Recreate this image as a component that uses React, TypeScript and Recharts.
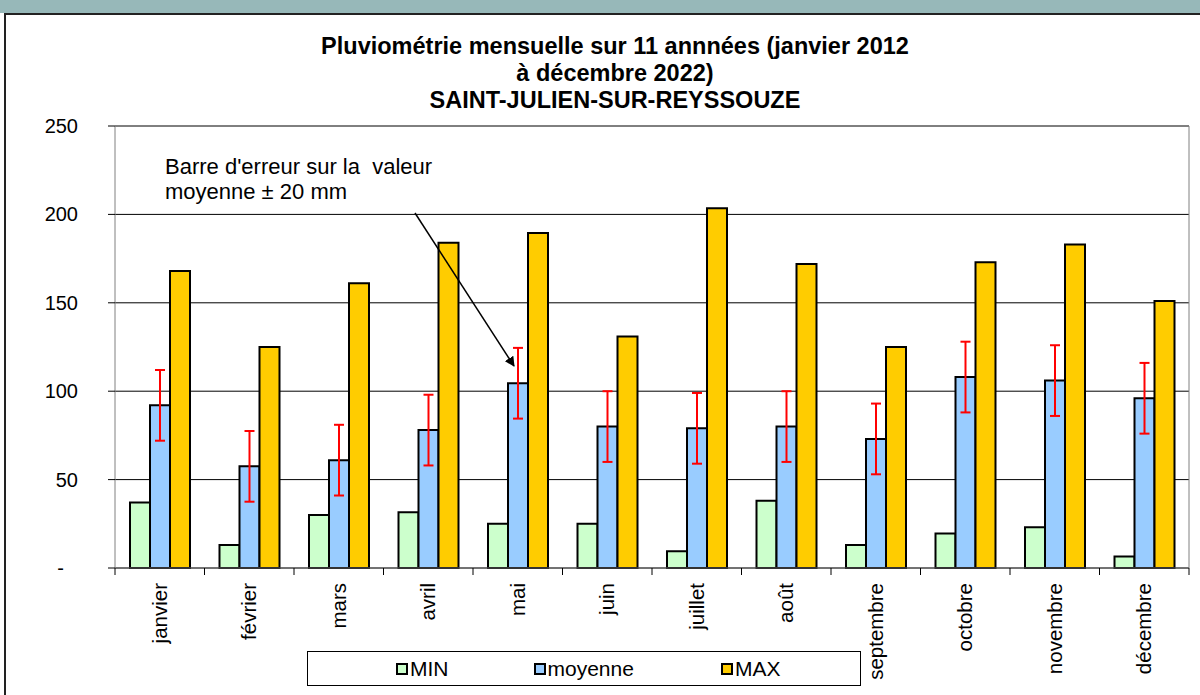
import {
  BarChart, Bar, XAxis, YAxis, CartesianGrid, Legend, ErrorBar,
} from 'recharts'

const months = ['janvier', 'février', 'mars', 'avril', 'mai', 'juin', 'juillet', 'août', 'septembre', 'octobre', 'novembre', 'décembre']
const minVals = [37, 13, 30, 31.5, 25, 25, 9.5, 38, 13, 19.5, 23, 6.5]
const meanVals = [92, 57.5, 61, 78, 104.5, 80, 79, 80, 73, 108, 106, 96]
const maxVals = [168, 125, 161, 184, 189.5, 131, 203.5, 172, 125, 173, 183, 151]
const errMm = 20
const yTicks = [0, 50, 100, 150, 200, 250]

const FONT = '"Liberation Sans", Arial, sans-serif'
const W = 1200
const H = 695
const M = { top: 126, right: 11, left: 0, bottom: 0 }
const Y_W = 115
const BAND = (W - Y_W - M.right) / months.length

const data = months.map((m, i) => ({
  month: m,
  min: minVals[i],
  mean: meanVals[i],
  max: maxVals[i],
  err: errMm,
}))

const COLORS = { min: '#CCFFCC', mean: '#99CCFF', max: '#FFCC00' }

function MonthTick(props: any) {
  const { x, y, payload, index } = props
  const top = y - 8
  return (
    <g>
      <line x1={x - BAND / 2} x2={x - BAND / 2} y1={top} y2={top + 7} stroke="#000" />
      {index === months.length - 1 && (
        <line x1={x + BAND / 2} x2={x + BAND / 2} y1={top} y2={top + 7} stroke="#000" />
      )}
      <text
        x={x} y={top + 15}
        transform={`rotate(-90, ${x}, ${top + 15})`}
        textAnchor="end" dy="0.35em"
        fontSize={20.5} fontFamily={FONT} fill="#000"
      >
        {payload.value}
      </text>
    </g>
  )
}

function ValueTick(props: any) {
  const { x, y, payload } = props
  const zero = payload.value === 0
  return (
    <text x={zero ? x - 14 : x} y={y} dy="0.35em" textAnchor="end" fontSize={20} fontFamily={FONT} fill="#000">
      {zero ? '-' : payload.value}
    </text>
  )
}

const legendItems = [
  { key: 'min', label: 'MIN', ml: 88 },
  { key: 'mean', label: 'moyenne', ml: 85 },
  { key: 'max', label: 'MAX', ml: 87 },
]

function LegendBox() {
  return (
    <div style={{ display: 'flex', alignItems: 'center', height: '100%', fontFamily: FONT, fontSize: 21 }}>
      {legendItems.map(it => (
        <div key={it.key} style={{ display: 'flex', alignItems: 'center', marginLeft: it.ml }}>
          <span style={{
            display: 'inline-block', width: 8, height: 8, border: '2px solid #000',
            background: (COLORS as any)[it.key], marginRight: 2,
          }} />
          <span>{it.label}</span>
        </div>
      ))}
    </div>
  )
}

export default function App() {
  return (
    <div style={{ position: 'absolute', left: 0, top: 0, width: W, height: H, overflow: 'hidden', background: '#fff' }}>
      {/* bandeau et cadre */}
      <div style={{ position: 'absolute', left: 0, top: 0, width: W, height: 13, background: '#97B8B9' }} />
      <div style={{ position: 'absolute', left: 4, top: 13, width: W, height: H, borderLeft: '2px solid #222', borderTop: '2px solid #222' }} />

      <div style={{ position: 'absolute', left: 0, top: 0 }}>
        <BarChart width={W} height={H} data={data} margin={M} barCategoryGap={15} barGap={0}>
          <CartesianGrid vertical={false} stroke="#000" />
          <CartesianGrid
            stroke="#808080"
            horizontalCoordinatesGenerator={({ offset }: any) => [offset.top]}
            verticalCoordinatesGenerator={({ offset }: any) => [offset.left + offset.width]}
          />
          <XAxis
            dataKey="month" height={H - 568} tickLine={false} axisLine={{ stroke: '#666' }}
            interval={0} tick={<MonthTick />}
          />
          <YAxis
            width={Y_W} domain={[0, 250]} ticks={yTicks} interval={0}
            tickSize={7} tickMargin={30} tickLine={{ stroke: '#000' }}
            axisLine={{ stroke: '#808080' }} tick={<ValueTick />}
          />
          <Legend
            layout="horizontal" verticalAlign="middle" align="center"
            content={<LegendBox />}
            wrapperStyle={{ left: 307, top: 651, width: 554, height: 35, border: '1px solid #000', background: '#fff', boxSizing: 'border-box' }}
          />
          <Bar dataKey="min" name="MIN" fill={COLORS.min} stroke="#000" strokeWidth={2} isAnimationActive={false} />
          <Bar dataKey="mean" name="moyenne" fill={COLORS.mean} stroke="#000" strokeWidth={2} isAnimationActive={false}>
            <ErrorBar dataKey="err" direction="y" width={5} stroke="#FF0000" strokeWidth={2} isAnimationActive={false} />
          </Bar>
          <Bar dataKey="max" name="MAX" fill={COLORS.max} stroke="#000" strokeWidth={2} isAnimationActive={false} />
        </BarChart>
      </div>

      {/* titre */}
      <div style={{
        position: 'absolute', left: 250, top: 33, width: 730, textAlign: 'center',
        fontFamily: FONT, fontWeight: 'bold', fontSize: 23.5, lineHeight: '27px', color: '#000',
      }}>
        Pluviométrie mensuelle sur 11 annnées (janvier 2012<br />à décembre 2022)<br />SAINT-JULIEN-SUR-REYSSOUZE
      </div>

      {/* annotation */}
      <div style={{
        position: 'absolute', left: 165, top: 154, fontFamily: FONT, fontSize: 22,
        lineHeight: '25px', color: '#000', whiteSpace: 'pre',
      }}>
        {"Barre d'erreur sur la  valeur\nmoyenne ± 20 mm"}
      </div>
      <svg width={W} height={H} style={{ position: 'absolute', left: 0, top: 0, pointerEvents: 'none' }}>
        <defs>
          <marker id="ah" markerWidth="10" markerHeight="10" refX="9" refY="5" orient="auto" markerUnits="userSpaceOnUse">
            <path d="M0,0 L10,5 L0,10 z" fill="#000" />
          </marker>
        </defs>
        <line x1={415} y1={213} x2={514} y2={366} stroke="#000" strokeWidth={1.5} markerEnd="url(#ah)" />
      </svg>
    </div>
  )
}
